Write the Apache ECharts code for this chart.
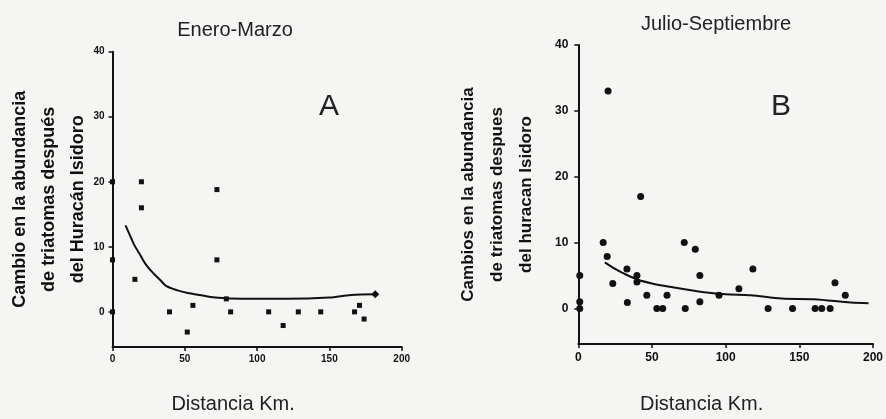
<!DOCTYPE html>
<html><head><meta charset="utf-8">
<script src="https://cdn.jsdelivr.net/npm/echarts@6/dist/echarts.min.js"></script>
<style>html,body{margin:0;padding:0;background:#f5f5f3}#c{width:886px;height:419px}</style>
</head><body><div id="c"></div>
<script>
// Panel A (Enero-Marzo)
const aX = [0,0,0,15.5,20,20,39.4,51.7,55.6,72.2,72.2,78.7,81.7,108,118,128.5,144,167.4,170.8,174,181.7];
const aY = [20,8,0,5,20,16,0,-3.1,1,18.8,8,2,0,0,-2.1,0,0,0,1,-1.1,2.7];
const aFitX = [9,12,15,18.5,23,28,33,37,45,52,60,71,90,120,150,165,182];
const aFitY = [13.3,11.8,10.3,9,7.3,6,4.9,4,3.3,2.9,2.6,2.2,2,2,2.2,2.6,2.7];
// Panel B (Julio-Septiembre)
const bX = [1,1,1,16.9,20.2,19.6,23.4,33,33.3,39.8,39.8,42.3,46.5,53.3,57.3,60.2,71.9,72.6,79.4,82.5,82.5,95.5,109,118.5,128.8,145.4,160.7,165.2,170.9,174.2,181.2];
const bY = [5,1,0,10,33,7.9,3.8,6,0.9,5,4,17,2,0,0,2,10,0,9,5,1,2,3,6,0,0,0,0,0,3.9,2];
const bFitX = [18,25,30,40,50,62,84,100,117,138,160,185,197];
const bFitY = [7,6,5.4,4.4,3.8,3.3,2.5,2.15,2,1.5,1.4,0.9,0.8];
// Axis ticks
const xTicks = [0,50,100,150,200];
const yTicks = [0,10,20,30,40];
const titles = ['Enero-Marzo','Julio-Septiembre'];
const panelLetters = ['A','B'];
const xName = 'Distancia Km.';
const yNameA = 'Cambio en la abundancia\nde triatomas después\ndel Huracán Isidoro';
const yNameB = 'Cambios en la abundancia\nde triatomas despues\ndel huracan Isidoro';

const zip = (xs, ys) => xs.map((x, i) => [x, ys[i]]);
const FONT = 'Liberation Sans, Arial, sans-serif';
const axisLineStyle = {lineStyle:{color:'#111', width:2}};

function xAxis(gridIndex, labelSize, margin, gap) {
  return {
    type:'value', gridIndex, min:0, max:200, interval:50,
    axisLine:{show:true, onZero:false, ...axisLineStyle},
    axisTick:{show:true, length:4, lineStyle:{color:'#111', width:1.5}},
    axisLabel:{fontSize:labelSize, fontWeight:'bold', color:'#111', margin, fontFamily:FONT,
      customValues: xTicks},
    splitLine:{show:false},
    name:xName, nameLocation:'middle', nameGap:gap, nameMoveOverlap:false,
    nameTextStyle:{fontSize:20, color:'#222', fontFamily:FONT, padding:[0,48,0,0]}
  };
}
function yAxis(gridIndex, labelSize, margin, name, nameSize, gap) {
  return {
    type:'value', gridIndex, min:-5.4, max:40,
    axisLine:{show:true, onZero:false, ...axisLineStyle},
    axisTick:{show:true, length:4, lineStyle:{color:'#111', width:1.5}, customValues: yTicks},
    axisLabel:{fontSize:labelSize, fontWeight:'bold', color:'#111', margin, fontFamily:FONT,
      customValues: yTicks},
    splitLine:{show:false},
    name, nameLocation:'middle', nameGap:gap, nameRotate:90, nameMoveOverlap:false,
    nameTextStyle:{fontSize:nameSize, fontWeight:'bold', color:'#111', fontFamily:FONT, lineHeight:29}
  };
}

const chart = echarts.init(document.getElementById('c'));
chart.setOption({
  backgroundColor:'#f5f5f3',
  animation:false,
  title:[
    {text:titles[0], left:230, top:15, textAlign:'center', textStyle:{fontSize:20, fontWeight:'normal', color:'#222', fontFamily:FONT}},
    {text:titles[1], left:711, top:9, textAlign:'center', textStyle:{fontSize:20, fontWeight:'normal', color:'#222', fontFamily:FONT}},
    {text:panelLetters[0], left:324, top:87, textAlign:'center', textStyle:{fontSize:30, fontWeight:'normal', color:'#222', fontFamily:FONT}},
    {text:panelLetters[1], left:776, top:87, textAlign:'center', textStyle:{fontSize:30, fontWeight:'normal', color:'#222', fontFamily:FONT}}
  ],
  grid:[
    {left:112.5, top:51.7, width:289.2, height:299.6},
    {left:578.3, top:45, width:296.7, height:303.7}
  ],
  xAxis:[xAxis(0, 10, 7, 47), xAxis(1, 12, 8, 50)],
  yAxis:[yAxis(0, 10, 8, yNameA, 18, 20), yAxis(1, 12, 10, yNameB, 17, 37)],
  series:[
    {type:'scatter', xAxisIndex:0, yAxisIndex:0, symbol:'rect', symbolSize:5,
      itemStyle:{color:'#111', opacity:1},
      data: zip(aX, aY).map((p, i) => i === aX.length - 1 ? {value:p, symbol:'diamond', symbolSize:8} : p)},
    {type:'line', xAxisIndex:0, yAxisIndex:0, data:zip(aFitX, aFitY), smooth:0.3,
      showSymbol:false, lineStyle:{color:'#111', width:2}},
    {type:'scatter', xAxisIndex:1, yAxisIndex:1, symbol:'circle', symbolSize:7,
      itemStyle:{color:'#111', opacity:1}, data:zip(bX, bY)},
    {type:'line', xAxisIndex:1, yAxisIndex:1, data:zip(bFitX, bFitY), smooth:0.3,
      showSymbol:false, lineStyle:{color:'#111', width:2}}
  ]
});
</script>
</body></html>
